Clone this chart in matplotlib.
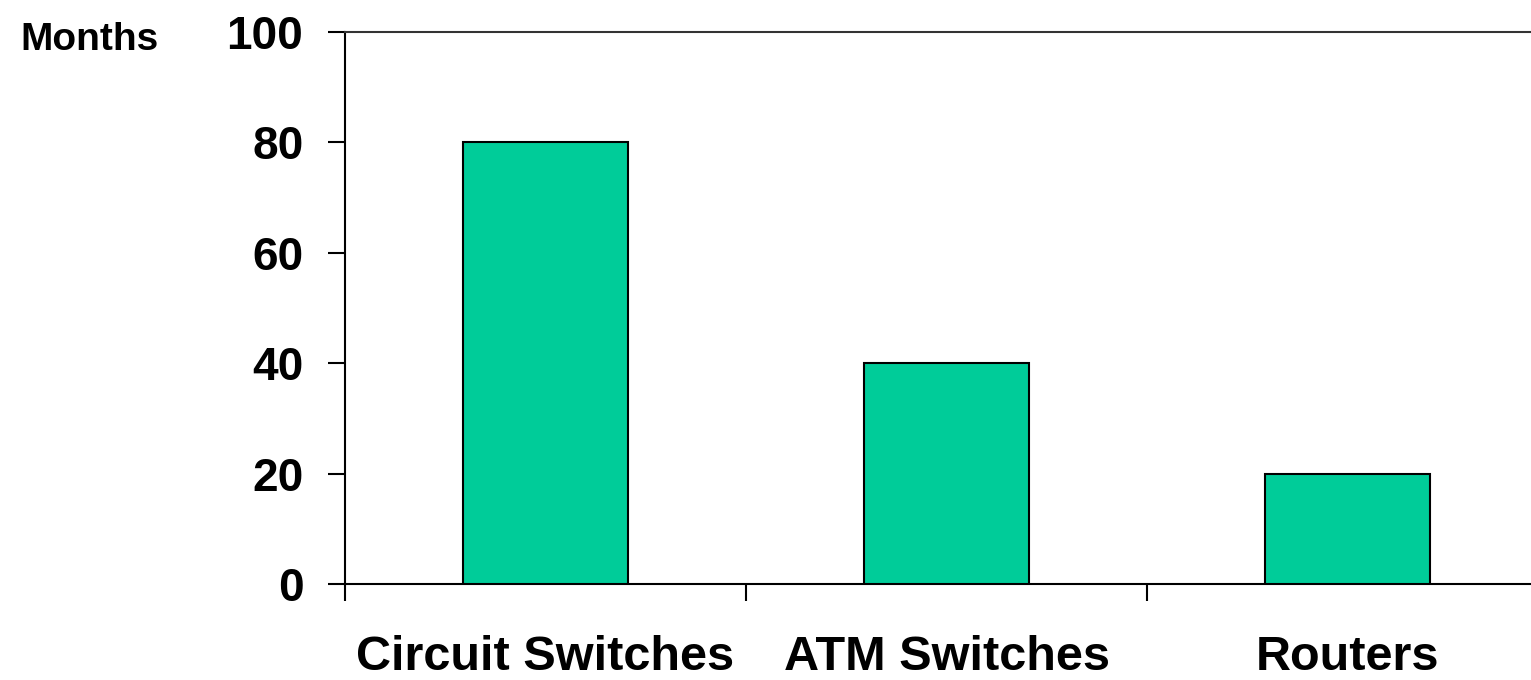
import matplotlib
matplotlib.use("Agg")
import matplotlib.pyplot as plt
from matplotlib.ticker import FixedLocator, NullFormatter, FixedFormatter

categories = ["Circuit Switches", "ATM Switches", "Routers"]
months = [80, 40, 20]
y_ticks = [0, 20, 40, 60, 80, 100]

plt.rcParams["font.family"] = ["Liberation Sans", "DejaVu Sans"]
plt.rcParams["font.weight"] = "bold"

W, H = 1531, 680
fig = plt.figure(figsize=(W / 100, H / 100), dpi=100)
ax = fig.add_axes([345 / W, 1 - 584 / H, 1203 / W, (584 - 32) / H])

x = list(range(len(categories)))
ax.bar(x, months, width=0.41, color="#00CC99", edgecolor="black", linewidth=1.5, zorder=3)

ax.set_xlim(-0.5, len(categories) - 0.5)
ax.set_ylim(0, 100)

# major ticks mark category boundaries, minor ticks carry the labels
ax.xaxis.set_major_locator(FixedLocator([i - 0.5 for i in range(len(categories) + 1)]))
ax.xaxis.set_major_formatter(NullFormatter())
ax.xaxis.set_minor_locator(FixedLocator(x))
ax.xaxis.set_minor_formatter(FixedFormatter(categories))
ax.tick_params(axis="x", which="major", direction="out", length=12, width=1.5)
ax.tick_params(axis="x", which="minor", length=0, pad=37, labelsize=35)

ax.set_yticks(y_ticks)
ax.tick_params(axis="y", direction="out", length=12, width=1.5, pad=18, labelsize=33)

for lbl in ax.get_xticklabels(minor=True) + ax.get_yticklabels():
    lbl.set_fontweight("bold")

ax.spines["right"].set_visible(False)
for side in ("left", "bottom", "top"):
    ax.spines[side].set_linewidth(1.5)
    ax.spines[side].set_color("black")
ax.spines["top"].set_color("#333333")

fig.text(20 / W, 1 - 40 / H, "Months", fontsize=28, fontweight="bold", va="center", ha="left")

fig.savefig("out.png", dpi=100)
